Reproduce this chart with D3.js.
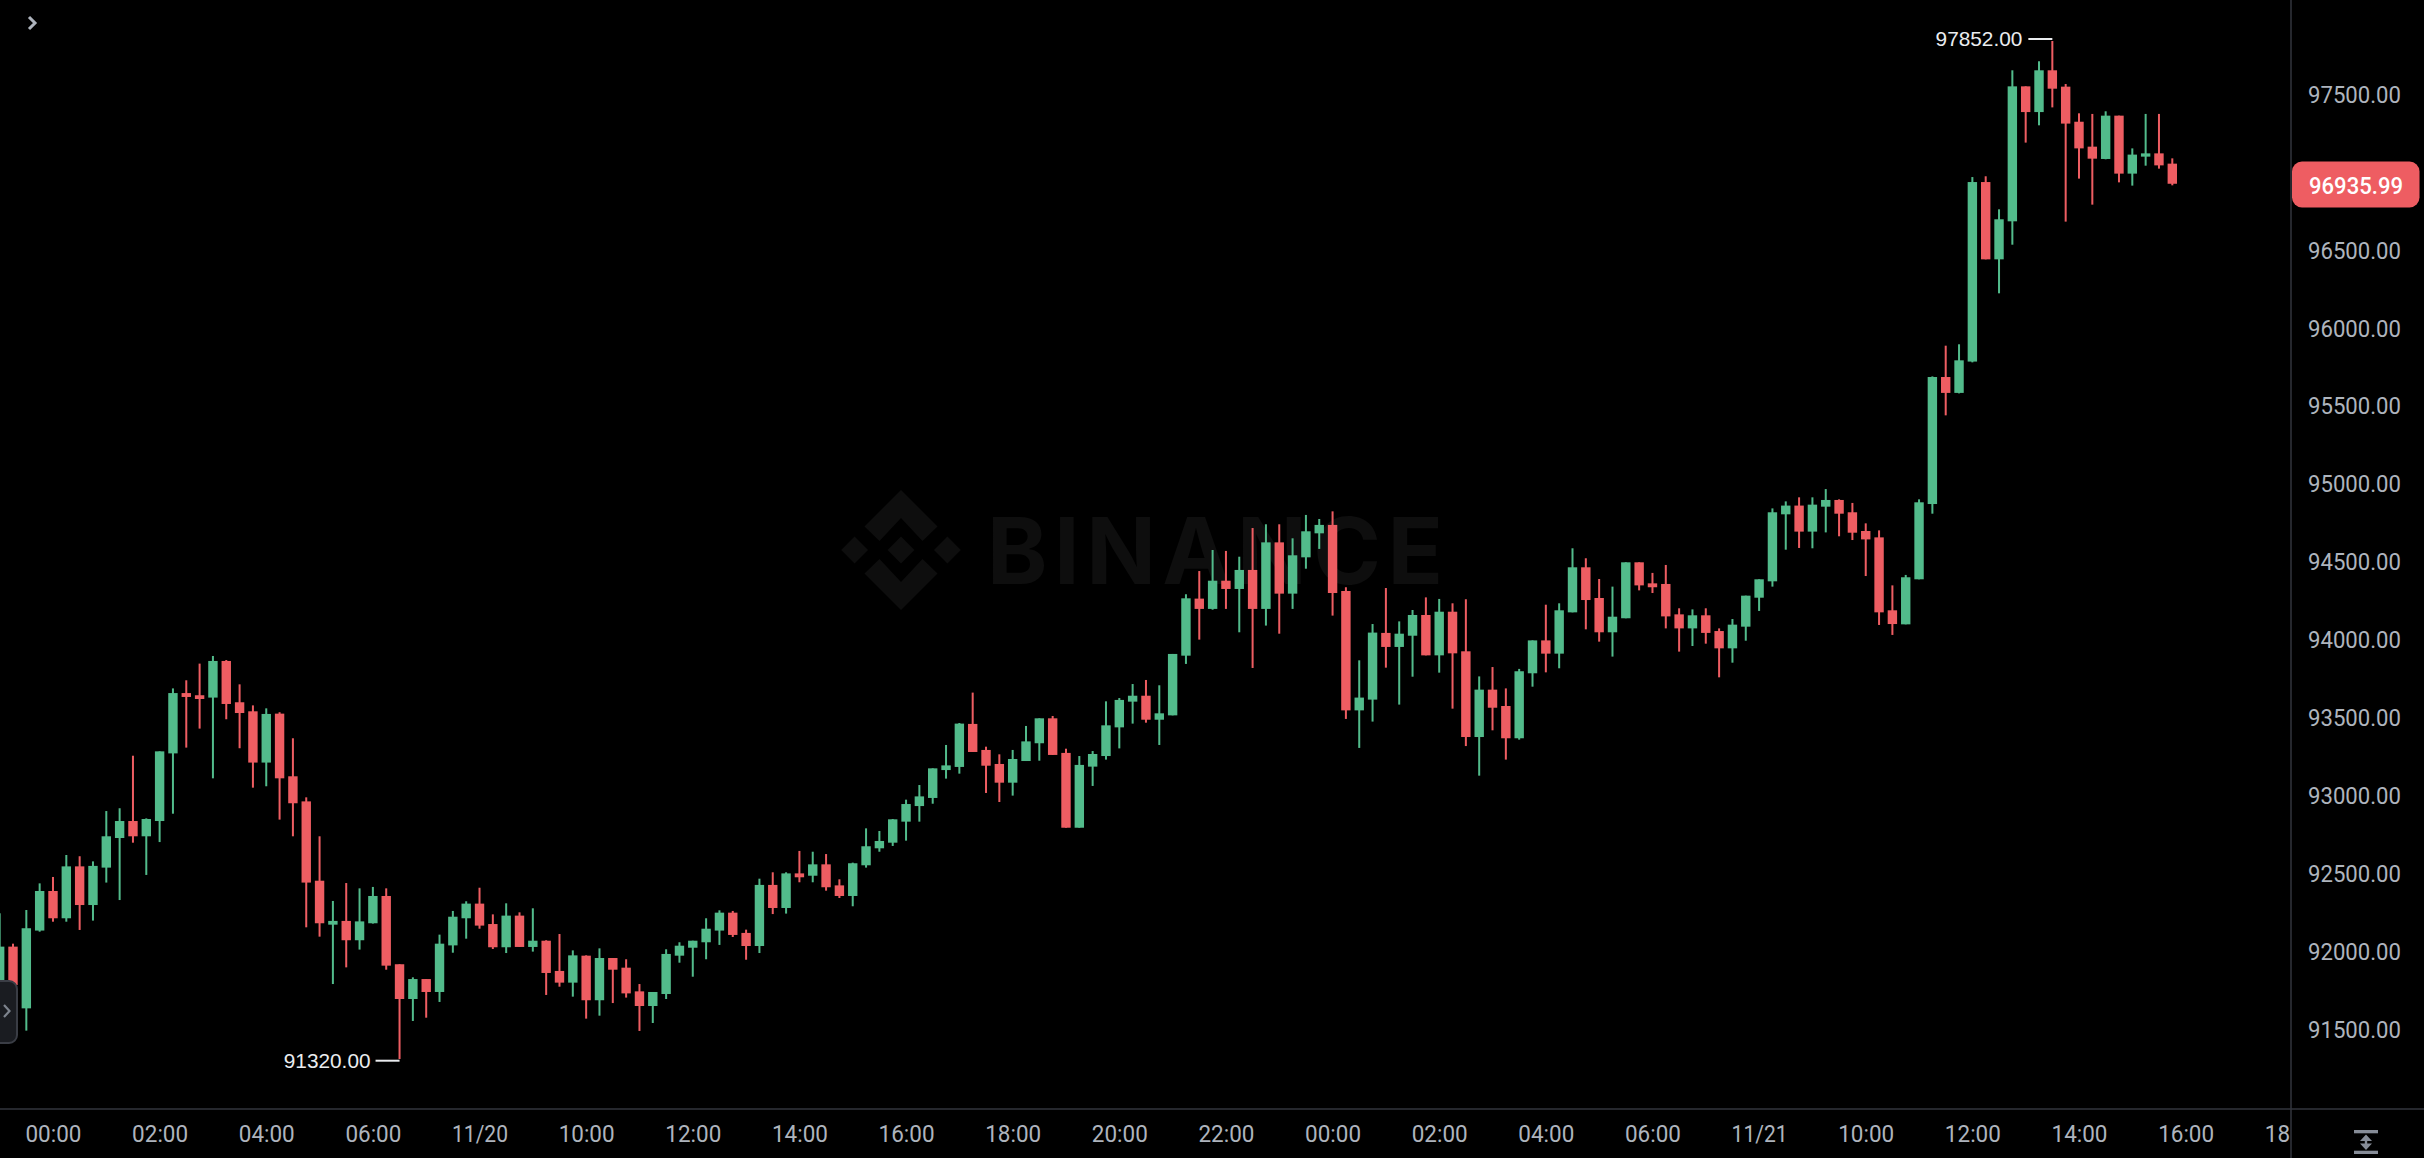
<!DOCTYPE html>
<html>
<head>
<meta charset="utf-8">
<script src="https://cdn.jsdelivr.net/npm/d3@7/dist/d3.min.js"></script>
<style>
html,body{margin:0;padding:0;background:#000;overflow:hidden}
svg{display:block}
</style>
</head>
<body>
<svg id="chart" width="2424" height="1158"></svg>
<script>
const open = [91699,92041,91645,92144,92398,92223,92556,92308,92548,92738,
92847,92749,92847,93281,93668,93654,93639,93874,93609,93551,
93222,93536,93134,92973,92464,92182,92206,92082,92191,92366,
91928,91705,91833,91750,92049,92223,92317,92186,92037,92240,
92039,92079,91885,91810,91983,91697,91968,91906,91754,91660,
91737,91983,92034,92069,92144,92259,92129,92045,92437,92289,
92511,92496,92569,92434,92366,92563,92672,92708,92843,92943,
92995,93174,93194,93470,93303,93213,93093,93232,93346,93506,
93284,92804,93196,93264,93448,93613,93651,93497,93525,93908,
94274,94208,94389,94336,94458,94208,94635,94306,94539,94693,
94747,94323,93557,93626,94054,93964,94036,94169,93910,94190,
93936,93386,93690,93585,93378,93795,94006,93921,94186,94475,
94278,94058,94148,94507,94372,94368,94173,94083,94167,94066,
93955,94094,94280,94385,94815,94871,94704,94864,94907,94828,
94708,94667,94199,94109,94398,94881,95696,95594,95795,96947,
96451,96695,97561,97396,97664,97559,97334,97174,97095,97373,
97001,97110,97131,97065];
const close = [92041,91795,92159,92398,92223,92556,92308,92559,92749,92847,
92749,92860,93294,93668,93643,93630,93874,93598,93540,93222,
93534,93121,92961,92452,92191,92206,92082,92203,92366,91919,
91705,91833,91750,92060,92233,92317,92176,92037,92240,92039,
92079,91872,91810,91985,91697,91968,91893,91741,91660,91750,
91994,92047,92079,92156,92259,92116,92045,92437,92289,92511,
92486,92569,92422,92366,92576,92685,92719,92858,92956,93005,
93185,93204,93472,93290,93202,93093,93245,93358,93506,93271,
92804,93207,93277,93461,93624,93651,93497,93538,93919,94276,
94208,94389,94336,94458,94208,94635,94306,94552,94706,94747,
94310,93557,93639,94056,93964,94049,94169,93910,94190,93923,
93386,93690,93574,93378,93808,94006,93921,94199,94475,94265,
94058,94158,94507,94359,94347,94160,94083,94167,94054,93955,
94107,94293,94398,94828,94871,94704,94877,94907,94819,94697,
94654,94186,94111,94411,94892,95696,95594,95803,96947,96451,
96708,97561,97396,97664,97546,97322,97163,97097,97373,97001,
97123,97131,97054,96935.99];
const high = [92255,92060,92276,92447,92488,92629,92621,92588,92911,92929,
93266,92864,93294,93698,93750,93857,93906,93880,93724,93589,
93570,93545,93378,92999,92749,92334,92449,92415,92424,92415,
91928,91844,91833,92118,92270,92332,92419,92248,92319,92261,
92287,92082,92122,92017,91985,92030,91968,91960,91801,91750,
92024,92069,92079,92223,92274,92270,92150,92477,92518,92518,
92655,92650,92635,92473,92580,92800,92783,92860,92984,93078,
93185,93335,93476,93671,93324,93275,93303,93457,93506,93521,
93311,93264,93296,93615,93636,93726,93752,93718,93919,94302,
94451,94586,94580,94543,94727,94751,94751,94661,94811,94785,
94834,94347,93878,94111,94342,94128,94201,94282,94272,94244,
94270,93775,93835,93698,93823,94006,94235,94244,94597,94533,
94400,94351,94507,94507,94439,94490,94212,94205,94212,94083,
94143,94293,94398,94853,94898,94924,94924,94977,94911,94888,
94757,94712,94359,94426,94911,95700,95897,95906,96979,96984,
96772,97664,97561,97722,97852,97576,97388,97384,97401,97373,
97163,97384,97384,97099];
const low = [91635,91699,91502,92137,92201,92201,92148,92208,92452,92340,
92708,92501,92712,92894,93318,93440,93121,93500,93314,93061,
93070,92856,92749,92165,92105,91801,91908,92022,92189,91893,
91320,91564,91585,91686,92002,92092,92156,92026,92000,92039,
92009,91731,91784,91720,91579,91598,91679,91714,91500,91551,
91705,91938,91848,91960,92052,92103,91957,92000,92250,92253,
92454,92454,92400,92353,92300,92548,92650,92687,92721,92843,
92958,93119,93151,93290,93027,92969,93010,93232,93234,93271,
92804,92804,93072,93241,93313,93472,93478,93335,93525,93855,
94011,94203,94208,94058,93829,94101,94049,94208,94466,94593,
94165,93502,93316,93485,93831,93594,93773,93910,93799,93568,
93328,93138,93429,93241,93369,93709,93801,93827,94186,94077,
93998,93902,94148,94327,94310,94083,93934,93970,93985,93769,
93863,94004,94195,94351,94588,94599,94597,94699,94674,94650,
94419,94105,94041,94109,94398,94819,95450,95591,95790,96451,
96233,96545,97200,97311,97426,96693,96969,96802,97093,96945,
96924,97052,97033,96926];

const priceTicks = [97500,96500,96000,95500,95000,94500,94000,93500,93000,92500,92000,91500];
const timeLabels = ["00:00","02:00","04:00","06:00","11/20","10:00","12:00","14:00","16:00","18:00","20:00","22:00","00:00","02:00","04:00","06:00","11/21","10:00","12:00","14:00","16:00","18:00"];
const candlesPerLabel = 8;
const firstLabelCandle = 4;
const lastPrice = 96935.99;
const maxPrice = 97852;
const minPrice = 91320;

const UP = "#52bb8b", DOWN = "#ee5d62", GRID = "#32353c", AXIS_TEXT = "#aeb4bd";
const W = 2424, H = 1158, plotR = 2291, plotB = 1109;

const svg = d3.select("#chart");
const x = d3.scaleLinear().domain([0, 163]).range([-0.33, 2172.3]);
const y = d3.scaleLinear().domain([maxPrice, minPrice]).range([41, 1059]);

svg.append("rect").attr("width", W).attr("height", H).attr("fill", "#000");

const defs = svg.append("defs");
defs.append("clipPath").attr("id", "plotClip").append("rect")
  .attr("x", 0).attr("y", 0).attr("width", plotR).attr("height", H);

// watermark
const wm = svg.append("g").attr("fill", "#0e0e0e");
const logo = wm.append("g").attr("transform", "translate(901,550)");
logo.append("path").attr("d", "M0,-60L36.5,-23.5L21.5,-9L0,-32L-21.5,-9L-36.5,-23.5Z");
logo.append("path").attr("d", "M0,60L36.5,23.5L21.5,9L0,32L-21.5,9L-36.5,23.5Z");
[-46.4, 0, 46.4].forEach(dx => logo.append("path")
  .attr("d", `M${dx},-13.4L${dx+13.4},0L${dx},13.4L${dx-13.4},0Z`));
wm.append("text").attr("x", 987).attr("y", 583.5)
  .attr("font-family", "Inter").attr("font-weight", 700).attr("font-size", 91.5)
  .attr("textLength", 456).attr("lengthAdjust", "spacing").text("BINANCE");

// candles
const idx = d3.range(open.length);
const candles = svg.append("g").attr("class", "candles");
candles.selectAll("rect.wick").data(idx).join("rect").attr("class", "wick")
  .attr("x", i => x(i) - 1).attr("width", 2)
  .attr("y", i => y(high[i]))
  .attr("height", i => y(low[i]) - y(high[i]))
  .attr("fill", i => close[i] >= open[i] ? UP : DOWN);
candles.selectAll("rect.body").data(idx).join("rect").attr("class", "body")
  .attr("x", i => x(i) - 4.7).attr("width", 9.4)
  .attr("y", i => y(Math.max(open[i], close[i])))
  .attr("height", i => Math.max(1.5, Math.abs(y(open[i]) - y(close[i]))))
  .attr("fill", i => close[i] >= open[i] ? UP : DOWN);

// extreme labels
const extG = svg.append("g").attr("font-family", "'Liberation Sans'").attr("font-size", 20.8).attr("fill", "#eaecef");
const hiI = high.indexOf(maxPrice), loI = low.indexOf(minPrice);
extG.append("line").attr("x1", x(hiI) - 24).attr("x2", x(hiI)).attr("y1", y(maxPrice) - 2).attr("y2", y(maxPrice) - 2)
  .attr("stroke", "#eaecef").attr("stroke-width", 2);
extG.append("text").attr("x", x(hiI) - 30).attr("y", y(maxPrice) - 2).attr("dy", "0.35em")
  .attr("text-anchor", "end").text(maxPrice.toFixed(2));
extG.append("line").attr("x1", x(loI) - 24).attr("x2", x(loI)).attr("y1", y(minPrice) + 1.7).attr("y2", y(minPrice) + 1.7)
  .attr("stroke", "#eaecef").attr("stroke-width", 2);
extG.append("text").attr("x", x(loI) - 29).attr("y", y(minPrice) + 1.7).attr("dy", "0.35em")
  .attr("text-anchor", "end").text(minPrice.toFixed(2));

// axis rules
svg.append("line").attr("x1", 0).attr("x2", W).attr("y1", plotB).attr("y2", plotB).attr("stroke", GRID).attr("stroke-width", 1.5);
svg.append("line").attr("x1", plotR).attr("x2", plotR).attr("y1", 0).attr("y2", H).attr("stroke", GRID).attr("stroke-width", 1.5);

// y axis
const yAxis = d3.axisRight(y).tickValues(priceTicks).tickSize(0).tickPadding(0).tickFormat(d => d.toFixed(2));
const yG = svg.append("g").attr("transform", "translate(2308,-1.3)").call(yAxis);
yG.select(".domain").remove();
yG.selectAll("text").attr("font-family", "Roboto").attr("font-size", 24).attr("fill", AXIS_TEXT)
  .attr("textLength", 93).attr("lengthAdjust", "spacingAndGlyphs");

// x axis
const tickIdx = timeLabels.map((_, k) => firstLabelCandle + k * candlesPerLabel);
const xAxis = d3.axisBottom(x).tickValues(tickIdx).tickSize(0).tickPadding(0)
  .tickFormat((d, k) => timeLabels[k]);
const xInner = svg.append("g").attr("clip-path", "url(#plotClip)").append("g").attr("transform", "translate(0,1125)").call(xAxis);
xInner.select(".domain").remove();
xInner.selectAll("text").attr("font-family", "Roboto").attr("font-size", 24).attr("fill", AXIS_TEXT)
  .attr("dy", "0.71em").attr("y", 0)
  .attr("textLength", 56).attr("lengthAdjust", "spacingAndGlyphs");

// last price tag
const tagH = 46, tagY = y(lastPrice) + 0.7 - tagH / 2;
svg.append("rect").attr("x", 2292).attr("y", tagY).attr("width", 127.5).attr("height", tagH).attr("rx", 10)
  .attr("fill", DOWN);
svg.append("text").attr("x", 2356).attr("y", tagY + tagH / 2 + 0.5).attr("dy", "0.36em").attr("text-anchor", "middle")
  .attr("font-family", "Roboto").attr("font-weight", 500).attr("font-size", 24).attr("fill", "#fff")
  .attr("textLength", 94).attr("lengthAdjust", "spacingAndGlyphs").text(lastPrice.toFixed(2));

// left panel handle
svg.append("rect").attr("x", -12).attr("y", 981).attr("width", 29).attr("height", 62).attr("rx", 8)
  .attr("fill", "#1a1c21").attr("stroke", "#3a3d45").attr("stroke-width", 2);
svg.append("path").attr("d", "M4,1005L9.5,1011L4,1017").attr("fill", "none")
  .attr("stroke", "#7d838d").attr("stroke-width", 2.2);

// top-left chevron
svg.append("path").attr("d", "M29,17L35,23L29,29").attr("fill", "none")
  .attr("stroke", "#aeb4bd").attr("stroke-width", 3);

// bottom-right scale icon
const ic = svg.append("g").attr("fill", "#868c97");
ic.append("rect").attr("x", 2354).attr("y", 1130).attr("width", 24).attr("height", 3.3);
ic.append("rect").attr("x", 2354).attr("y", 1150.7).attr("width", 24).attr("height", 3.3);
ic.append("path").attr("d", "M2366,1134.5L2372,1141L2367.2,1141L2367.2,1143.5L2372,1143.5L2366,1150L2360,1143.5L2364.8,1143.5L2364.8,1141L2360,1141Z");
</script>
</body>
</html>
